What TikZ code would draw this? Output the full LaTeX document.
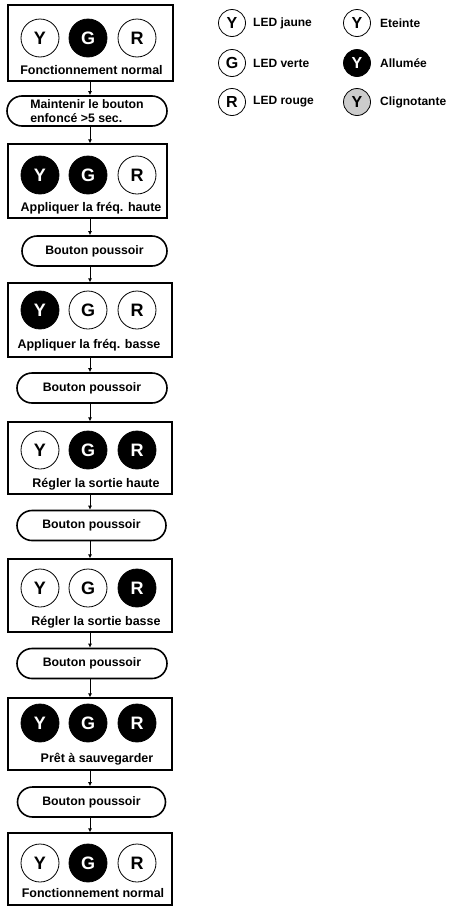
\documentclass[tikz,border=0pt]{standalone}
\usepackage{fontspec}
\setmainfont{Liberation Sans}
\usetikzlibrary{shapes.misc,arrows.meta}
\begin{document}
\begin{tikzpicture}[x=1pt,y=-1pt,
  box/.style={draw, line width=1.2pt, inner sep=0pt},
  pill/.style={rounded rectangle, draw, line width=1.6pt, inner sep=0pt, minimum height=30pt,
    font=\fontsize{12.3}{14}\selectfont\bfseries, align=left},
  led/.style={circle, draw, line width=0.8pt, minimum size=38pt, inner sep=0pt,
    font=\fontsize{18}{18}\selectfont\bfseries},
  sled/.style={circle, draw, line width=0.8pt, minimum size=27pt, inner sep=0pt,
    font=\fontsize{16}{16}\selectfont\bfseries},
  on/.style={fill=black, text=white},
  off/.style={fill=white, text=black},
  blink/.style={fill=black!20, text=black},
  lab/.style={font=\fontsize{12.5}{14}\selectfont\bfseries, inner sep=0pt},
  leg/.style={font=\fontsize{12}{14}\selectfont\bfseries, inner sep=0pt, anchor=west},
  conn/.style={line width=0.8pt, -{Latex[length=4pt,width=4pt]}}]
\useasboundingbox (0,0) rectangle (450,908);
\coordinate (ax) at (90,0);

% Box 1
\node[box, minimum width=165pt, minimum height=76pt] (b1) at (90.5,43) {};
\node[led, off] (b1y) at (40,38) {Y};
\node[led, on]  (b1g) at (88,38) {G};
\node[led, off] (b1r) at (137,38) {R};
\node[lab] (b1t) at (91.5,70) {Fonctionnement normal};

% Pill 1
\node[pill, minimum width=160pt] (p1) at (87,111) {Maintenir le bouton\\enfoncé >5 sec.};

% Box 2
\node[box, minimum width=159pt, minimum height=74pt] (b2) at (87.5,181) {};
\node[led, on]  (b2y) at (40,175) {Y};
\node[led, on]  (b2g) at (88,175) {G};
\node[led, off] (b2r) at (137,175) {R};
\node[lab] (b2t) at (91,208) {Appliquer la fréq. haute};

% Pill 2
\node[pill, minimum width=145pt] (p2) at (94.5,251) {Bouton poussoir};

% Box 3
\node[box, minimum width=164pt, minimum height=74pt] (b3) at (90,320) {};
\node[led, on]  (b3y) at (40,310) {Y};
\node[led, off] (b3g) at (88,310) {G};
\node[led, off] (b3r) at (137,310) {R};
\node[lab] (b3t) at (89,345) {Appliquer la fréq. basse};

% Pill 3
\node[pill, minimum width=150pt] (p3) at (92,388) {Bouton poussoir};

% Box 4
\node[box, minimum width=164pt, minimum height=72pt] (b4) at (90,458) {};
\node[led, off] (b4y) at (40,450) {Y};
\node[led, on]  (b4g) at (88,450) {G};
\node[led, on]  (b4r) at (137,450) {R};
\node[lab] (b4t) at (96,484) {Régler la sortie haute};

% Pill 4
\node[pill, minimum width=149pt] (p4) at (91.5,525.5) {Bouton poussoir};

% Box 5
\node[box, minimum width=164pt, minimum height=73pt] (b5) at (90,595.5) {};
\node[led, off] (b5y) at (40,588) {Y};
\node[led, off] (b5g) at (88,588) {G};
\node[led, on]  (b5r) at (137,588) {R};
\node[lab] (b5t) at (96,622) {Régler la sortie basse};

% Pill 5
\node[pill, minimum width=150pt] (p5) at (92,663.5) {Bouton poussoir};

% Box 6
\node[box, minimum width=164pt, minimum height=72pt] (b6) at (90,734) {};
\node[led, on] (b6y) at (40,723) {Y};
\node[led, on] (b6g) at (88,723) {G};
\node[led, on] (b6r) at (137,723) {R};
\node[lab] (b6t) at (97,759) {Prêt à sauvegarder};

% Pill 6
\node[pill, minimum width=148pt] (p6) at (91.5,802) {Bouton poussoir};

% Box 7
\node[box, minimum width=164pt, minimum height=72pt] (b7) at (90,869) {};
\node[led, off] (b7y) at (40,863) {Y};
\node[led, on]  (b7g) at (88,863) {G};
\node[led, off] (b7r) at (137,863) {R};
\node[lab] (b7t) at (93,893) {Fonctionnement normal};

% Connectors
\draw[conn] (ax |- b1.south) -- (ax |- p1.north);
\draw[conn] (ax |- p1.south) -- (ax |- b2.north);
\draw[conn] (ax |- b2.south) -- (ax |- p2.north);
\draw[conn] (ax |- p2.south) -- (ax |- b3.north);
\draw[conn] (ax |- b3.south) -- (ax |- p3.north);
\draw[conn] (ax |- p3.south) -- (ax |- b4.north);
\draw[conn] (ax |- b4.south) -- (ax |- p4.north);
\draw[conn] (ax |- p4.south) -- (ax |- b5.north);
\draw[conn] (ax |- b5.south) -- (ax |- p5.north);
\draw[conn] (ax |- p5.south) -- (ax |- b6.north);
\draw[conn] (ax |- b6.south) -- (ax |- p6.north);
\draw[conn] (ax |- p6.south) -- (ax |- b7.north);

% Legend
\node[sled, off] (l1) at (232,23) {Y};
\node[leg] (l1t) at (253,23) {LED jaune};
\node[sled, off] (l2) at (232,63) {G};
\node[leg] (l2t) at (253,63) {LED verte};
\node[sled, off] (l3) at (232,102) {R};
\node[leg] (l3t) at (253,102) {LED rouge};
\node[sled, off] (l4) at (357,23) {Y};
\node[leg] (l4t) at (380,23) {Eteinte};
\node[sled, on] (l5) at (357,63) {Y};
\node[leg] (l5t) at (380,63) {Allumée};
\node[sled, blink] (l6) at (357,102) {Y};
\node[leg] (l6t) at (380,102) {Clignotante};
\end{tikzpicture}
\end{document}
